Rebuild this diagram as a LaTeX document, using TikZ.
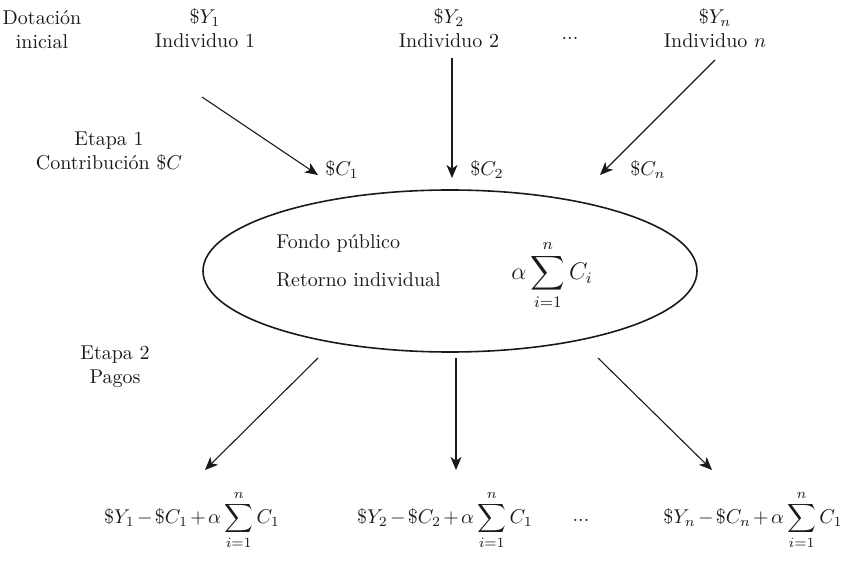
\documentclass[tikz,border=0pt]{standalone}
\usepackage{amsmath}
\usepackage{xcolor}
\usepackage{tikz}
\usetikzlibrary{positioning,arrows.meta,shapes.geometric}
\definecolor{cInk}{HTML}{1A1A1A}

\begin{document}
\begin{tikzpicture}[
  x=0.5pt, y=-0.5pt,
  font=\normalsize,
  line/.style={-{Stealth[length=6.5pt,width=5.5pt,inset=1.8pt]}, cInk, line width=0.55pt},
  lbl/.style={align=center, inner sep=1pt, text=cInk},
  amt/.style={inner sep=1pt, text=cInk},
  pay/.style={inner sep=1pt, text=cInk, execute at begin node={\medmuskip=2mu}},
  fund/.style={ellipse, draw=cInk, line width=0.8pt, minimum width=247pt, minimum height=81pt, inner sep=0pt},
]
\useasboundingbox (0,0) rectangle (850,571);

% ---------- initial endowment ----------
\node[lbl] (dot) at (42,30) {Dotación\\inicial};
\node[lbl] (ind1) at (205,28) {$\$Y_1$\\Individuo 1};
\node[lbl] (ind2) at (449,28) {$\$Y_2$\\Individuo 2};
\node[lbl] (dots1) at (570,38) {...};
\node[lbl] (indn) at (715,28) {$\$Y_n$\\Individuo $n$};

% ---------- stage 1: contributions ----------
\node[lbl] (et1) at (109,151) {Etapa 1\\Contribución \$$C$};
\node[amt] (c1) at (342,170) {$\$C_1$};
\node[amt] (c2) at (487,170) {$\$C_2$};
\node[amt] (cn) at (648,170) {$\$C_n$};

% ---------- public fund ----------
\node[fund] (fondo) at (450,271) {};
\node[amt, anchor=west] (fp) at (274,243) {Fondo público};
\node[amt, anchor=west] (ri) at (274,280) {Retorno individual};
\node[amt, font=\large] (ret) at (552,275) {$\displaystyle\alpha\sum_{i=1}^{n}C_i$};

% ---------- stage 2: payoffs ----------
\node[lbl] (et2) at (115,367) {Etapa 2\\Pagos};
\node[pay] (p1) at (192,520) {$\displaystyle\$Y_1-\$C_1+\alpha\sum_{i=1}^{n}C_1$};
\node[pay] (p2) at (445,520) {$\displaystyle\$Y_2-\$C_2+\alpha\sum_{i=1}^{n}C_1$};
\node[lbl] (dots2) at (581,520) {...};
\node[pay] (pn) at (753,520) {$\displaystyle\$Y_n-\$C_n+\alpha\sum_{i=1}^{n}C_1$};

% arrow ends
\coordinate (s1) at (202,97);  \coordinate (e1) at (318,175);
\coordinate (s2) at (452,58);  \coordinate (e2) at (452,178);
\coordinate (sn) at (715,60);  \coordinate (en) at (600,175);
\coordinate (t1) at (318,358); \coordinate (f1) at (205,470);
\coordinate (t2) at (456,358); \coordinate (f2) at (456,470);
\coordinate (tn) at (598,358); \coordinate (fn) at (712,470);

% arrows into the fund
\draw[line] (s1) -- (e1);
\draw[line] (s2) -- (e2);
\draw[line] (sn) -- (en);

% arrows out of the fund
\draw[line] (t1) -- (f1);
\draw[line] (t2) -- (f2);
\draw[line] (tn) -- (fn);

\end{tikzpicture}
\end{document}
